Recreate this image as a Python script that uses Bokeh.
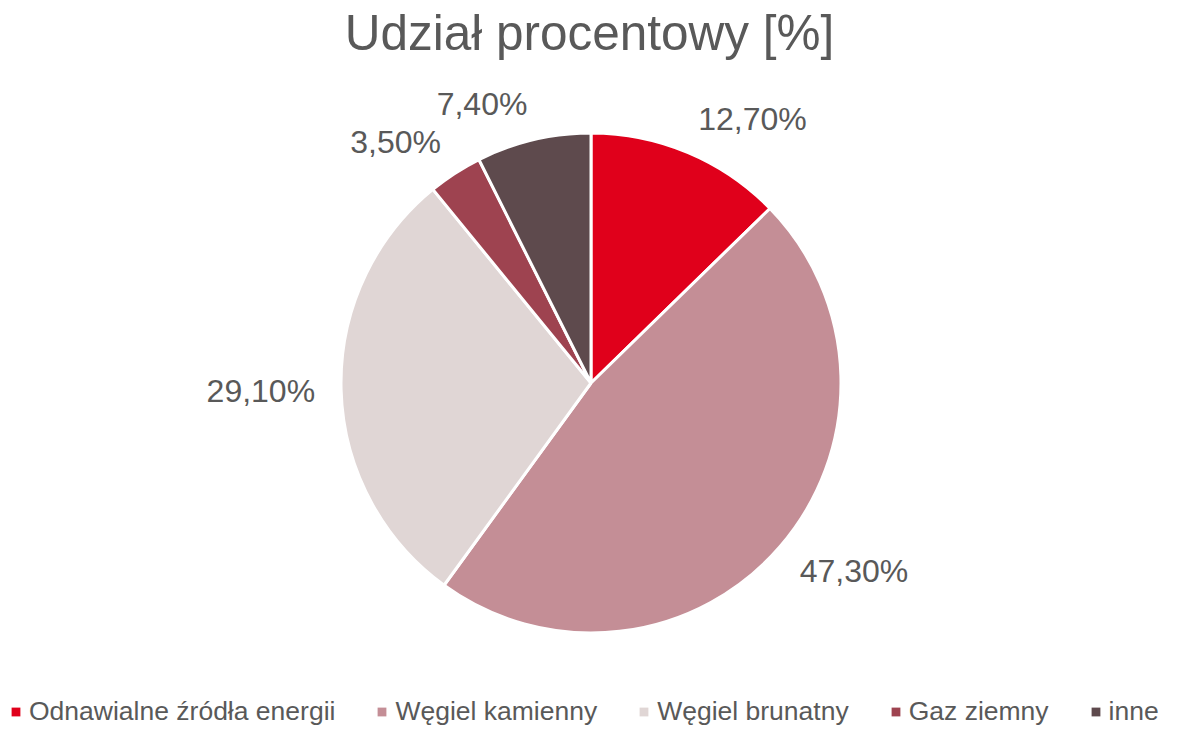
import math
from bokeh.plotting import figure
from bokeh.models import ColumnDataSource, Range1d, Legend, LegendItem
from bokeh.core.properties import value
from bokeh.embed import file_html
from bokeh.resources import INLINE

# ---- data ----
categories = ["Odnawialne źródła energii", "Węgiel kamienny", "Węgiel brunatny", "Gaz ziemny", "inne"]
shares = [12.7, 47.3, 29.1, 3.5, 7.4]
labels = ["12,70%", "47,30%", "29,10%", "3,50%", "7,40%"]
colors = ["#E0001B", "#C48E96", "#E0D6D5", "#9E4350", "#5E4A4D"]
title_text = "Udział procentowy [%]"

W, H = 1162, 727
CX, CY, R = 590.5, 344.5, 250.0
FONT = "Liberation Sans"
TXT = "#595959"

total = sum(shares)
starts, ends, xs, ys, aligns = [], [], [], [], []
cum = 0.0
for s in shares:
    a0 = cum / total
    cum += s
    a1 = cum / total
    # clockwise from top
    starts.append(math.pi / 2 - 2 * math.pi * a1)
    ends.append(math.pi / 2 - 2 * math.pi * a0)
    mid = 2 * math.pi * (a0 + a1) / 2
    sn, cs = math.sin(mid), math.cos(mid)
    d = R + 22
    xs.append(CX + d * sn + 4 * sn)
    ys.append(CY + d * cs + cs * 15)
    aligns.append("left" if sn >= 0 else "right")

src = ColumnDataSource(dict(cat=categories, start=starts, end=ends, color=colors,
                            lx=xs, ly=ys, lab=labels, align=aligns))

p = figure(width=W, height=H, output_backend="svg", toolbar_location=None,
           x_range=Range1d(0, W), y_range=Range1d(0, H), min_border=0)
p.axis.visible = False
p.grid.visible = False
p.outline_line_color = None
p.background_fill_color = "white"

p.wedge(x=CX, y=CY, radius=R, start_angle="start", end_angle="end",
        fill_color="color", line_color="white", line_width=3, source=src)

p.text(x="lx", y="ly", text="lab", text_align="align", text_baseline="middle",
       text_font=value(FONT), text_font_size="32px", text_color=TXT, source=src)

p.text(x=[W / 2 + 8], y=[H - 32], text=[title_text], text_align="center",
       text_baseline="alphabetic", text_font=value(FONT), text_font_size="49.5px",
       text_color=TXT)

# legend swatches (no outline), not drawn in the plot area
nan = float("nan")
leg_src = ColumnDataSource(dict(x=[nan] * len(categories), y=[nan] * len(categories),
                                color=colors))
sw = p.rect(x="x", y="y", width=1, height=1, fill_color="color", line_color=None,
            source=leg_src)

items = [LegendItem(label=c, renderers=[sw], index=i) for i, c in enumerate(categories)]
legend = Legend(items=items, orientation="horizontal", location=(10, 0),
                label_text_font=FONT, label_text_font_size="26.5px", label_text_color=TXT,
                glyph_width=11, glyph_height=11, label_standoff=8, spacing=41,
                padding=0, margin=0, border_line_color=None, background_fill_alpha=0)
p.add_layout(legend, "center")

open("out.html", "w").write(file_html(p, INLINE))
